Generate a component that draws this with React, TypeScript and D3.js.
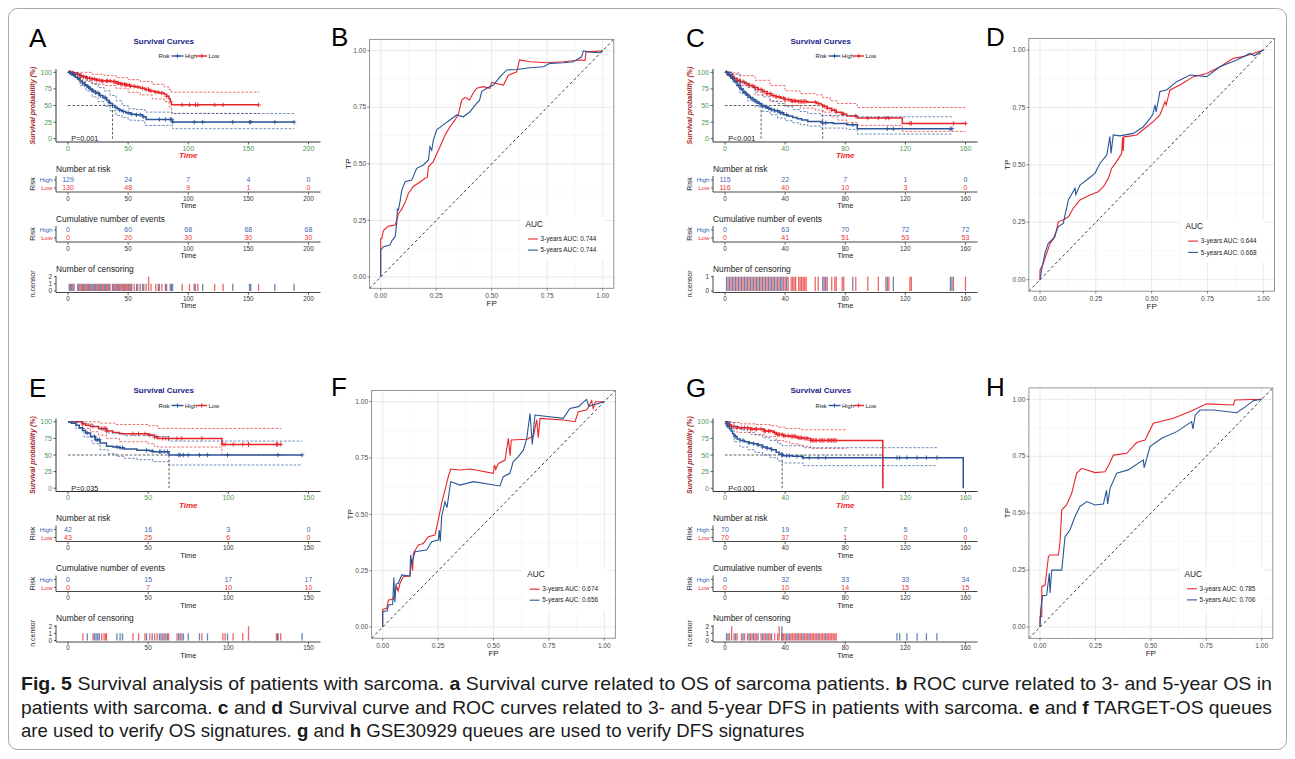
import React from 'react';
import * as d3 from 'd3';

type Pt = [number, number];

const BLUE = '#2b5597';
const RED = '#e8262a';
const TBLUE = '#3b68b3';
const TRED = '#f03434';
const GREEN = '#4f9a4f';
const FONT = '"Liberation Sans", Arial, Helvetica, sans-serif';

// ---------------- Panel A (OS, TCGA) ----------------
const A_ticks = [0, 50, 100, 150, 200];
const A_high: Pt[] = [[0,100],[2,98],[4,96],[6,93],[8,90],[10,87],[12,84],[14,81],[16,78],[18,75],[20,72],[23,69],[26,65],[29,62],[32,58],[34,55],[35,53],[37,50],[39,47],[41,45],[43,43],[45,41],[48,39],[52,37],[56,36],[62,33],[65,29],[87,25]];
const A_low: Pt[] = [[0,100],[4,99],[7,97],[10,95],[13,93],[16,91],[20,90],[24,88],[28,87],[36,86],[40,84],[44,82],[48,81],[52,79],[56,78],[60,76],[64,74],[68,72],[72,70],[76,69],[80,67],[82,64],[84,60],[85,56],[86,51]];
const A_highLo: Pt[] = [[0,100],[5,92],[10,80],[15,72],[20,63],[25,56],[30,49],[35,42],[40,35],[45,32],[50,28],[56,27],[64,20],[87,15],[188,15]];
const A_highUp: Pt[] = [[0,100],[5,99],[10,94],[15,88],[20,83],[25,77],[30,72],[35,65],[40,57],[45,50],[50,45],[56,44],[64,40],[87,38],[188,38]];
const A_lowLo: Pt[] = [[0,100],[6,92],[12,86],[20,82],[30,80],[40,76],[50,70],[60,66],[70,60],[80,56],[84,48],[86,38],[159,38]];
const A_lowUp: Pt[] = [[0,100],[10,100],[20,97],[30,95],[40,92],[50,89],[60,86],[70,82],[80,78],[84,74],[86,70],[159,70]];
const A_highCens = [1,3,5,9,12,14,17,19,21,23,25,27,30,31,34,37,40,43,46,50,53,57,60,63,76,81,85,86,87,105,112,137,151,152,172,188];
const A_lowCens = [2,4,8,10,11,13,15,16,18,20,22,24,26,28,29,32,33,35,38,39,41,42,44,45,47,48,49,51,52,55,58,62,65,67,67,69,73,75,78,82,95,101,106,108,122,129,158.5];
const A_nHigh = [129, 24, 7, 4, 0];
const A_nLow = [130, 48, 9, 1, 0];
const A_eHigh = [0, 60, 68, 68, 68];
const A_eLow = [0, 20, 30, 30, 30];

// ---------------- Panel C (DFS, TCGA) ----------------
const C_ticks = [0, 40, 80, 120, 160];
const C_high: Pt[] = [[0,100],[2,96],[4,91],[6,86],[8,80],[10,75],[12,70],[14,66],[16,62],[18,59],[20,56],[22,53],[24,50],[26,48],[28,46],[30,44],[33,42],[36,39],[39,36],[42,34],[45,32],[48,30],[51,28],[55,26],[64,24],[72,23],[81,21],[88,15]];
const C_low: Pt[] = [[0,100],[2,97],[4,94],[6,91],[8,88],[10,86],[13,83],[16,80],[19,77],[22,74],[25,71],[28,68],[31,65],[34,63],[37,61],[40,59],[44,57],[48,56],[55,55],[61,53],[64,51],[65,49],[68,46],[71,43],[74,40],[78,37],[81,34],[88,31],[118,23]];
const C_highLo: Pt[] = [[0,100],[5,86],[10,68],[15,57],[20,48],[25,41],[30,36],[35,31],[40,27],[45,24],[50,21],[55,19],[64,16],[81,14],[88,7],[151,7]];
const C_highUp: Pt[] = [[0,100],[5,97],[10,85],[15,77],[20,70],[25,63],[30,57],[35,53],[40,48],[45,44],[50,41],[55,38],[64,35],[88,33],[151,33]];
const C_lowLo: Pt[] = [[0,100],[5,90],[10,80],[20,66],[30,56],[40,50],[50,46],[60,43],[65,40],[70,33],[75,28],[81,24],[88,20],[118,11],[160,11]];
const C_lowUp: Pt[] = [[0,100],[5,99],[10,95],[20,88],[30,80],[40,72],[50,68],[60,66],[65,62],[70,57],[75,53],[88,47],[160,47]];
const C_highCens = [1,3,5,7,9,11,13,15,17,19,21,23,25,27,29,31,33,35,37,38,41,65,67,85,108,112,150,151];
const C_lowCens = [2,4,6,8,10,12,14,16,18,20,22,24,26,28,30,32,34,36,39,40,42,44,45,46,47,49,50,51,52,53,54,60,62,66,68,71,73,74,78,79,87,95,102,107,109,123,124,152,160];
const C_nHigh = [115, 22, 7, 1, 0];
const C_nLow = [116, 40, 10, 3, 0];
const C_eHigh = [0, 63, 70, 72, 72];
const C_eLow = [0, 41, 51, 53, 53];

// ---------------- Panel E (TARGET-OS) ----------------
const E_ticks = [0, 50, 100, 150];
const E_high: Pt[] = [[0,100],[2,98],[5,95],[7,91],[9,87],[11,83],[14,78],[17,73],[20,68],[24,63],[28,62],[32,61],[35,59],[43,57],[51,56],[53,55],[63,50]];
const E_low: Pt[] = [[0,100],[9,97],[11,95],[14,93],[19,90],[24,86],[28,84],[32,82],[50,80],[54,77],[56,75],[96,66]];
const E_highLo: Pt[] = [[0,100],[5,90],[10,77],[15,67],[20,58],[25,52],[30,48],[35,45],[43,43],[53,40],[63,35],[146,35]];
const E_highUp: Pt[] = [[0,100],[5,100],[10,97],[15,93],[20,88],[25,83],[35,79],[53,78],[63,71],[146,71]];
const E_lowLo: Pt[] = [[0,100],[9,90],[14,85],[19,80],[24,75],[32,70],[50,67],[54,63],[56,62],[96,50],[133,50]];
const E_lowUp: Pt[] = [[0,100],[10,100],[20,98],[30,96],[50,94],[56,90],[133,90]];
const E_highCens = [12,16.5,17.5,18.5,19.5,30.5,32.5,34,49,52.5,57,58,60,62,69,70,72,75,82,87,99.5,131,146];
const E_lowCens = [9.3,15.6,21,22.5,23.5,24,40.5,44,48,51,54,55.5,59,61,62.7,68,71,83.5,96.6,98,103,109,112.6,112.6,130,130.7,132.7];
const E_nHigh = [42, 16, 3, 0];
const E_nLow = [43, 25, 6, 0];
const E_eHigh = [0, 15, 17, 17];
const E_eLow = [0, 7, 10, 10];

// ---------------- Panel G (GSE30929) ----------------
const G_ticks = [0, 40, 80, 120, 160];
const G_high: Pt[] = [[0,100],[1,97],[2,93],[3,89],[4,86],[5,82],[6,78],[8,74],[10,72],[13,70],[16,68],[19,67],[22,65],[25,62],[28,60],[31,58],[34,54],[36,51],[38,49],[45,48],[52,46],[158.5,0]];
const G_low: Pt[] = [[0,100],[2,96],[4,93],[8,91],[17,89],[26,86],[32,84],[34,81],[39,79],[43,78],[48,76],[52,75],[57,72],[105,0]];
const G_highLo: Pt[] = [[0,100],[3,90],[6,70],[10,62],[15,58],[20,54],[25,50],[30,46],[35,41],[38,38],[52,34],[141,34]];
const G_highUp: Pt[] = [[0,100],[3,99],[6,93],[10,88],[15,84],[20,80],[25,76],[30,72],[35,67],[38,64],[52,61],[141,61]];
const G_lowLo: Pt[] = [[0,100],[3,90],[8,84],[17,81],[26,78],[34,72],[39,70],[43,67],[48,65],[52,63],[57,60],[81,60]];
const G_lowUp: Pt[] = [[0,100],[5,99],[10,97],[20,96],[30,94],[35,92],[40,90],[50,88],[81,88]];
const G_highCens = [1,2,7,12,16,19,22,25,28,31,37.8,37.8,41,43,48,52,56,62,67,114.4,116.2,121,127.8,134,141];
const G_lowCens = [3,4.4,4.4,6,8,11,13,15,17,18,20,21,24,26,27,29,30,33,35,36,36,38,39,40,42,44,45,46,47,49,50,51,53,54,55,57,58,59,60,61,63,64,65,66,68,69,70,71,72,73,74];
const G_nHigh = [70, 19, 7, 5, 0];
const G_nLow = [70, 37, 1, 0, 0];
const G_eHigh = [0, 32, 33, 33, 34];
const G_eLow = [0, 10, 14, 15, 15];

// ---------------- ROC curves ----------------
const B_red: Pt[] = [[0,0],[0,0.17],[0.005,0.17],[0.012,0.205],[0.035,0.225],[0.065,0.23],[0.072,0.25],[0.08,0.28],[0.095,0.3],[0.11,0.33],[0.125,0.37],[0.147,0.4],[0.177,0.42],[0.2,0.436],[0.21,0.44],[0.215,0.487],[0.237,0.51],[0.255,0.55],[0.267,0.576],[0.29,0.627],[0.312,0.664],[0.335,0.694],[0.35,0.72],[0.365,0.782],[0.38,0.794],[0.4,0.782],[0.415,0.81],[0.432,0.834],[0.462,0.841],[0.492,0.834],[0.5,0.86],[0.515,0.856],[0.553,0.848],[0.575,0.892],[0.613,0.907],[0.625,0.959],[0.673,0.951],[0.748,0.947],[0.823,0.951],[0.898,0.959],[0.92,0.956],[0.925,0.996],[0.958,0.996],[1,1]];
const B_blue: Pt[] = [[0,0],[0,0.119],[0.012,0.134],[0.042,0.141],[0.05,0.16],[0.065,0.178],[0.072,0.237],[0.075,0.3],[0.08,0.296],[0.088,0.34],[0.095,0.384],[0.11,0.421],[0.14,0.428],[0.162,0.48],[0.192,0.495],[0.215,0.517],[0.222,0.576],[0.23,0.56],[0.237,0.605],[0.252,0.65],[0.282,0.672],[0.312,0.694],[0.342,0.716],[0.372,0.708],[0.402,0.73],[0.432,0.767],[0.445,0.78],[0.455,0.819],[0.477,0.834],[0.508,0.848],[0.538,0.885],[0.568,0.915],[0.613,0.917],[0.673,0.925],[0.733,0.929],[0.763,0.944],[0.823,0.947],[0.868,0.951],[0.905,0.973],[0.913,0.999],[0.935,0.994],[0.988,0.991],[1,1]];
const D_red: Pt[] = [[0,0],[0,0.042],[0.015,0.071],[0.03,0.115],[0.045,0.158],[0.067,0.187],[0.075,0.22],[0.082,0.253],[0.104,0.26],[0.127,0.274],[0.149,0.311],[0.165,0.33],[0.179,0.347],[0.224,0.369],[0.261,0.383],[0.284,0.405],[0.306,0.441],[0.321,0.485],[0.343,0.514],[0.366,0.55],[0.37,0.62],[0.373,0.56],[0.376,0.623],[0.388,0.623],[0.433,0.63],[0.478,0.666],[0.507,0.688],[0.537,0.717],[0.56,0.775],[0.565,0.76],[0.582,0.826],[0.627,0.848],[0.687,0.884],[0.746,0.898],[0.806,0.927],[0.866,0.964],[0.91,0.971],[0.955,0.985],[1,1]];
const D_blue: Pt[] = [[0,0],[0.007,0.042],[0.022,0.115],[0.037,0.158],[0.06,0.18],[0.082,0.231],[0.104,0.245],[0.127,0.347],[0.157,0.398],[0.16,0.37],[0.179,0.412],[0.209,0.434],[0.246,0.463],[0.269,0.507],[0.299,0.543],[0.313,0.623],[0.318,0.55],[0.328,0.63],[0.358,0.626],[0.418,0.637],[0.463,0.666],[0.493,0.702],[0.505,0.72],[0.515,0.761],[0.52,0.73],[0.537,0.819],[0.567,0.826],[0.612,0.862],[0.672,0.891],[0.746,0.884],[0.806,0.927],[0.881,0.956],[0.94,0.985],[0.96,0.975],[1,1]];
const F_red: Pt[] = [[0,0],[0,0.078],[0.018,0.083],[0.026,0.12],[0.048,0.123],[0.063,0.179],[0.07,0.16],[0.078,0.194],[0.093,0.223],[0.123,0.226],[0.13,0.3],[0.135,0.25],[0.138,0.327],[0.161,0.364],[0.183,0.371],[0.206,0.401],[0.236,0.408],[0.251,0.475],[0.266,0.549],[0.281,0.608],[0.296,0.667],[0.307,0.701],[0.349,0.697],[0.394,0.701],[0.499,0.682],[0.505,0.72],[0.51,0.7],[0.522,0.726],[0.552,0.741],[0.567,0.837],[0.575,0.76],[0.58,0.83],[0.65,0.833],[0.68,0.845],[0.695,0.92],[0.702,0.84],[0.71,0.926],[0.815,0.919],[0.868,0.911],[0.883,0.956],[0.92,0.963],[0.93,0.98],[0.943,1.004],[0.95,0.97],[0.96,1],[1,1]];
const F_blue: Pt[] = [[0,0],[0,0.068],[0.021,0.072],[0.026,0.098],[0.045,0.1],[0.05,0.22],[0.055,0.11],[0.06,0.19],[0.07,0.194],[0.086,0.231],[0.123,0.226],[0.126,0.32],[0.131,0.28],[0.146,0.334],[0.198,0.342],[0.221,0.379],[0.251,0.386],[0.255,0.43],[0.26,0.38],[0.266,0.49],[0.281,0.556],[0.29,0.53],[0.307,0.645],[0.349,0.63],[0.409,0.645],[0.529,0.626],[0.544,0.667],[0.574,0.682],[0.589,0.734],[0.612,0.756],[0.635,0.785],[0.65,0.837],[0.665,0.948],[0.675,0.81],[0.687,0.941],[0.815,0.926],[0.845,0.97],[0.883,0.978],[0.92,1.01],[0.93,0.98],[1,1]];
const H_red: Pt[] = [[0,0],[0,0.045],[0.008,0.045],[0.008,0.177],[0.023,0.184],[0.038,0.309],[0.045,0.316],[0.083,0.316],[0.09,0.37],[0.098,0.514],[0.12,0.536],[0.143,0.587],[0.165,0.675],[0.188,0.697],[0.248,0.678],[0.293,0.682],[0.31,0.71],[0.331,0.755],[0.391,0.763],[0.436,0.81],[0.474,0.821],[0.511,0.895],[0.602,0.917],[0.677,0.946],[0.752,0.98],[0.872,0.975],[0.88,0.997],[1,1]];
const H_blue: Pt[] = [[0,0],[0.003,0.075],[0.012,0.138],[0.03,0.139],[0.042,0.236],[0.045,0.15],[0.053,0.25],[0.098,0.25],[0.113,0.397],[0.135,0.426],[0.158,0.485],[0.18,0.529],[0.211,0.551],[0.248,0.536],[0.286,0.54],[0.3,0.6],[0.305,0.54],[0.316,0.609],[0.346,0.675],[0.398,0.69],[0.466,0.734],[0.47,0.7],[0.496,0.792],[0.549,0.829],[0.617,0.858],[0.684,0.902],[0.69,0.87],[0.7,0.93],[0.722,0.953],[0.782,0.953],[0.887,0.941],[0.932,0.971],[0.962,0.994],[1,1]];
const ROC_ticks = [0, 0.25, 0.5, 0.75, 1];
const AUC3 = ['0.744', '0.644', '0.674', '0.785'];
const AUC5 = ['0.744', '0.668', '0.656', '0.706'];

const CAPTION: [string, boolean][][] = [
  [['Fig. 5', true], [' Survival analysis of patients with sarcoma. ', false], ['a', true], [' Survival curve related to OS of sarcoma patients. ', false], ['b', true], [' ROC curve related to 3- and 5-year OS in', false]],
  [['patients with sarcoma. ', false], ['c', true], [' and ', false], ['d', true], [' Survival curve and ROC curves related to 3- and 5-year DFS in patients with sarcoma. ', false], ['e', true], [' and ', false], ['f', true], [' TARGET-OS queues', false]],
  [['are used to verify OS signatures. ', false], ['g', true], [' and ', false], ['h', true], [' GSE30929 queues are used to verify DFS signatures', false]],
];
const CAPTION_WIDTHS = [1251, 1251, 0];

const fmt2 = d3.format('.2f');

function stepAt(k: Pt[], t: number) {
  let v = k[0][1];
  for (const [tt, s] of k) if (tt <= t) v = s;
  return v;
}

function SurvPanel(p: any) {
  const { dx, dy, letter, xmax, ticks, high, low, highLo, highUp, lowLo, lowUp, highCens, lowCens, pText, nHigh, nLow, eHigh, eLow, censMax } = p;
  const L = 56 + dx, R = 320.5 + dx;
  const x = d3.scaleLinear().domain([-0.05 * xmax, 1.05 * xmax]).range([L, R]);
  const yT = 69 + dy, yB = 142 + dy;
  const y = d3.scaleLinear().domain([-5, 105]).range([yB, yT]);
  const line = d3.line<Pt>().x(d => x(d[0])).y(d => y(d[1])).curve(d3.curveStepAfter);
  const lastT = (k: Pt[], c: number[]) => Math.max(k[k.length - 1][0], c[c.length - 1]);
  const km = (k: Pt[], c: number[]) => line([...k, [lastT(k, c), k[k.length - 1][1]]] as Pt[]) as string;
  const medians = [high, low].map((k: Pt[]) => k.find(d => d[1] <= 50)).filter(Boolean).map((d: any) => d[0]);
  const yTicks = [0, 25, 50, 75, 100];
  const plus = (cx: number, cy: number, col: string, key: string) => (
    <path key={key} d={`M${cx - 2.2},${cy}H${cx + 2.2}M${cx},${cy - 2.2}V${cy + 2.2}`} stroke={col} strokeWidth={0.9} />
  );
  const curve = (k: Pt[], c: number[], col: string, lo: Pt[], up: Pt[], tag: string) => (
    <g key={tag}>
      <path d={line(lo) as string} fill="none" stroke={col} strokeWidth={0.8} strokeDasharray="2.6,1.6" opacity={0.85} />
      <path d={line(up) as string} fill="none" stroke={col} strokeWidth={0.8} strokeDasharray="2.6,1.6" opacity={0.85} />
      <path d={km(k, c)} fill="none" stroke={col} strokeWidth={1.5} />
      {c.filter(t => t <= lastT(k, c)).map((t, i) => plus(x(t), y(stepAt(k, t)), col, tag + i))}
    </g>
  );
  const tickLabels = (yb: number, color: string, size: number, bold = false) =>
    ticks.map((t: number) => (
      <g key={'t' + t + yb}>
        <line x1={x(t)} x2={x(t)} y1={yb - 8.2} y2={yb - 5.8} stroke="#333" strokeWidth={0.8} />
        <text x={x(t)} y={yb} textAnchor="middle" fontSize={size} fill={color} fontWeight={bold ? 'bold' : 'normal'}>{t}</text>
      </g>
    ));
  const table = (top: number, title: string, hv: number[], lv: number[]) => {
    const rH = top + 8.5, rL = top + 16.5, ax = top + 20.5;
    return (
      <g>
        <text x={L} y={top} fontSize={8.4} fill="#222">{title}</text>
        <line x1={L} x2={L} y1={rH - 4} y2={ax} stroke="#333" strokeWidth={0.9} />
        <line x1={L} x2={R} y1={ax} y2={ax} stroke="#333" strokeWidth={0.9} />
        <line x1={L - 2} x2={L} y1={rH} y2={rH} stroke="#333" strokeWidth={0.8} />
        <line x1={L - 2} x2={L} y1={rL} y2={rL} stroke="#333" strokeWidth={0.8} />
        <text x={L - 3.5} y={rH + 2.2} textAnchor="end" fontSize={6.2} fill={TBLUE}>High</text>
        <text x={L - 3.5} y={rL + 2.2} textAnchor="end" fontSize={6.2} fill={TRED}>Low</text>
        <text transform={`translate(${35 + dx},${(rH + rL) / 2}) rotate(-90)`} textAnchor="middle" fontSize={7} fill="#222">Risk</text>
        {ticks.map((t: number, i: number) => (
          <g key={'v' + i}>
            <text x={x(t)} y={rH + 2.4} textAnchor="middle" fontSize={7} fill={TBLUE}>{hv[i]}</text>
            <text x={x(t)} y={rL + 2.4} textAnchor="middle" fontSize={7} fill={TRED}>{lv[i]}</text>
          </g>
        ))}
        {tickLabels(ax + 8.5, '#333', 6.4)}
        <text x={(L + R) / 2} y={ax + 16} textAnchor="middle" fontSize={7.4} fill="#222">Time</text>
      </g>
    );
  };
  const cTop = 276.7 + dy, cBot = 291 + dy, cAx = 292.5 + dy;
  const yc = d3.scaleLinear().domain([0, censMax]).range([cBot, cTop]);
  const hCount = d3.rollups(highCens, (v: number[]) => v.length, (d: number) => d);
  const lCount = d3.rollups(lowCens, (v: number[]) => v.length, (d: number) => d);
  return (
    <g fontFamily={FONT}>
      <text x={29 + dx} y={47 + dy} fontSize={26} fill="#000">{letter}</text>
      <text x={163.7 + dx} y={43.5 + dy} textAnchor="middle" fontSize={8} fontWeight="bold" fill="#1d1d8a">Survival Curves</text>
      <g fontSize={5.8} fill="#222">
        <text x={158.5 + dx} y={58 + dy}>Risk</text>
        <line x1={171.5 + dx} x2={183.5 + dx} y1={56 + dy} y2={56 + dy} stroke={BLUE} strokeWidth={1.4} />
        {plus(177.5 + dx, 56 + dy, BLUE, 'lgH')}
        <text x={185 + dx} y={58 + dy}>High</text>
        <line x1={196.5 + dx} x2={207 + dx} y1={56 + dy} y2={56 + dy} stroke={RED} strokeWidth={1.4} />
        {plus(201.7 + dx, 56 + dy, RED, 'lgL')}
        <text x={208.5 + dx} y={58 + dy}>Low</text>
      </g>
      {/* axes */}
      <line x1={L} x2={L} y1={yT} y2={yB} stroke="#333" strokeWidth={1} />
      <line x1={L} x2={R} y1={yB} y2={yB} stroke="#333" strokeWidth={1} />
      {yTicks.map(v => (
        <g key={'y' + v}>
          <line x1={L - 2.5} x2={L} y1={y(v)} y2={y(v)} stroke="#333" strokeWidth={0.8} />
          <text x={L - 4} y={y(v) + 2.5} textAnchor="end" fontSize={7} fill={GREEN}>{v}</text>
        </g>
      ))}
      {ticks.map((t: number) => (
        <g key={'x' + t}>
          <line x1={x(t)} x2={x(t)} y1={yB} y2={yB + 2.5} stroke="#333" strokeWidth={0.8} />
          <text x={x(t)} y={yB + 8.5} textAnchor="middle" fontSize={7} fill={GREEN}>{t}</text>
        </g>
      ))}
      <text x={(L + R) / 2} y={158 + dy} textAnchor="middle" fontSize={8} fontWeight="bold" fontStyle="italic" fill="#f02828">Time</text>
      <text transform={`translate(${35 + dx},${(yT + yB) / 2}) rotate(-90)`} textAnchor="middle" fontSize={7} fontWeight="bold" fontStyle="italic" fill="#a3262a">Survival probability (%)</text>
      {/* medians */}
      {medians.length > 0 && (
        <g stroke="#333" strokeWidth={0.8} strokeDasharray="2.6,1.8" fill="none">
          <line x1={x(0)} x2={x(d3.max(medians) as number)} y1={y(50)} y2={y(50)} />
          {medians.map((m: number, i: number) => <line key={i} x1={x(m)} x2={x(m)} y1={y(50)} y2={y(0)} />)}
        </g>
      )}
      {curve(low, lowCens, RED, lowLo, lowUp, 'low')}
      {curve(high, highCens, BLUE, highLo, highUp, 'high')}
      <text x={x(0) + 3.3} y={141 + dy} fontSize={7.2} fill="#222">{pText}</text>
      {table(171.5 + dy, 'Number at risk', nHigh, nLow)}
      {table(221.5 + dy, 'Cumulative number of events', eHigh, eLow)}
      {/* censoring */}
      <text x={L} y={271.5 + dy} fontSize={8.4} fill="#222">Number of censoring</text>
      {lCount.map(([t, n]: any, i: number) => (
        <line key={'cl' + i} x1={x(t)} x2={x(t)} y1={yc(0)} y2={yc(n)} stroke={RED} strokeWidth={1.3} opacity={0.7} />
      ))}
      {hCount.map(([t, n]: any, i: number) => (
        <line key={'ch' + i} x1={x(t)} x2={x(t)} y1={yc(0)} y2={yc(n)} stroke={BLUE} strokeWidth={1.3} opacity={0.7} />
      ))}
      <line x1={L} x2={L} y1={cTop - 1} y2={cAx} stroke="#333" strokeWidth={0.9} />
      <line x1={L} x2={R} y1={cAx} y2={cAx} stroke="#333" strokeWidth={0.9} />
      {d3.range(0, censMax + 1).map(v => (
        <g key={'cy' + v}>
          <line x1={L - 2} x2={L} y1={yc(v)} y2={yc(v)} stroke="#333" strokeWidth={0.8} />
          <text x={L - 4} y={yc(v) + 2.3} textAnchor="end" fontSize={6.4} fill="#333">{v}</text>
        </g>
      ))}
      <text transform={`translate(${35 + dx},${(cTop + cBot) / 2}) rotate(-90)`} textAnchor="middle" fontSize={7} fill="#222">n.censor</text>
      {tickLabels(cAx + 8.2, '#333', 6.4)}
      <text x={(L + R) / 2} y={cAx + 15.7} textAnchor="middle" fontSize={7.4} fill="#222">Time</text>
    </g>
  );
}

function RocPanel(p: any) {
  const { letter, lx, ly, x0, x1, y0, y1, red, blue, auc3, auc5 } = p;
  const x = d3.scaleLinear().domain([0, 1]).range([x0, x1]);
  const y = d3.scaleLinear().domain([0, 1]).range([y0, y1]);
  const bl = x(-0.05), br = x(1.05), bt = y(1.05), bb = y(-0.05);
  const line = d3.line<Pt>().x(d => x(d[0])).y(d => y(d[1]));
  const minor = [0.125, 0.375, 0.625, 0.875];
  return (
    <g fontFamily={FONT}>
      <text x={lx} y={ly} fontSize={26} fill="#000">{letter}</text>
      <rect x={bl} y={bt} width={br - bl} height={bb - bt} fill="#fff" />
      {minor.map(v => (
        <g key={'m' + v} stroke="#f3f3f3" strokeWidth={0.6}>
          <line x1={x(v)} x2={x(v)} y1={bt} y2={bb} />
          <line x1={bl} x2={br} y1={y(v)} y2={y(v)} />
        </g>
      ))}
      {ROC_ticks.map(v => (
        <g key={'g' + v} stroke="#e6e6e6" strokeWidth={0.9}>
          <line x1={x(v)} x2={x(v)} y1={bt} y2={bb} />
          <line x1={bl} x2={br} y1={y(v)} y2={y(v)} />
        </g>
      ))}
      <line x1={bl} y1={bb} x2={br} y2={bt} stroke="#222" strokeWidth={0.9} strokeDasharray="2.8,2.6" />
      <path d={line(red) as string} fill="none" stroke={RED} strokeWidth={1.1} />
      <path d={line(blue) as string} fill="none" stroke={BLUE} strokeWidth={1.1} />
      <rect x={bl} y={bt} width={br - bl} height={bb - bt} fill="none" stroke="#8a8a8a" strokeWidth={0.9} />
      {ROC_ticks.map(v => (
        <g key={'t' + v}>
          <line x1={x(v)} x2={x(v)} y1={bb} y2={bb + 2.3} stroke="#555" strokeWidth={0.7} />
          <text x={x(v)} y={bb + 9.5} textAnchor="middle" fontSize={6.6} fill="#4d4d4d">{fmt2(v)}</text>
          <line x1={bl - 2.3} x2={bl} y1={y(v)} y2={y(v)} stroke="#555" strokeWidth={0.7} />
          <text x={bl - 3.5} y={y(v) + 2.2} textAnchor="end" fontSize={6.6} fill="#4d4d4d">{fmt2(v)}</text>
        </g>
      ))}
      <text x={(bl + br) / 2} y={bb + 18} textAnchor="middle" fontSize={8} fill="#222">FP</text>
      <text transform={`translate(${bl - 19},${(bt + bb) / 2}) rotate(-90)`} textAnchor="middle" fontSize={8} fill="#222">TP</text>
      <rect x={x(0.627)} y={y(0.265)} width={x(1.01) - x(0.627)} height={y(0.075) - y(0.265)} fill="#fff" />
      <text x={x(0.652)} y={y(0.22)} fontSize={8.3} fill="#222">AUC</text>
      <line x1={x(0.663)} x2={x(0.708)} y1={y(0.168)} y2={y(0.168)} stroke={RED} strokeWidth={1.1} />
      <text x={x(0.72)} y={y(0.168) + 2.3} fontSize={6.4} fill="#222">{`3-years AUC: ${auc3}`}</text>
      <line x1={x(0.663)} x2={x(0.708)} y1={y(0.119)} y2={y(0.119)} stroke={BLUE} strokeWidth={1.1} />
      <text x={x(0.72)} y={y(0.119) + 2.3} fontSize={6.4} fill="#222">{`5-years AUC: ${auc5}`}</text>
    </g>
  );
}

export default function App() {
  const DY = 349.5, DX = 657;
  return (
    <svg width={1295} height={759} style={{ position: 'absolute', left: 0, top: 0, background: '#fff' }}>
      <rect x={0} y={0} width={1295} height={759} fill="#fff" />
      <rect x={8.5} y={8.5} width={1278} height={741} rx={9} fill="none" stroke="#a8a8a8" strokeWidth={1} />
      <SurvPanel dx={0} dy={0} letter="A" xmax={200} ticks={A_ticks} high={A_high} low={A_low}
        highLo={A_highLo} highUp={A_highUp} lowLo={A_lowLo} lowUp={A_lowUp} highCens={A_highCens} lowCens={A_lowCens}
        pText="P=0.001" nHigh={A_nHigh} nLow={A_nLow} eHigh={A_eHigh} eLow={A_eLow} censMax={2} />
      <SurvPanel dx={DX} dy={0} letter="C" xmax={160} ticks={C_ticks} high={C_high} low={C_low}
        highLo={C_highLo} highUp={C_highUp} lowLo={C_lowLo} lowUp={C_lowUp} highCens={C_highCens} lowCens={C_lowCens}
        pText="P<0.001" nHigh={C_nHigh} nLow={C_nLow} eHigh={C_eHigh} eLow={C_eLow} censMax={1} />
      <SurvPanel dx={0} dy={DY} letter="E" xmax={150} ticks={E_ticks} high={E_high} low={E_low}
        highLo={E_highLo} highUp={E_highUp} lowLo={E_lowLo} lowUp={E_lowUp} highCens={E_highCens} lowCens={E_lowCens}
        pText="P=0.035" nHigh={E_nHigh} nLow={E_nLow} eHigh={E_eHigh} eLow={E_eLow} censMax={2} />
      <SurvPanel dx={DX} dy={DY} letter="G" xmax={160} ticks={G_ticks} high={G_high} low={G_low}
        highLo={G_highLo} highUp={G_highUp} lowLo={G_lowLo} lowUp={G_lowUp} highCens={G_highCens} lowCens={G_lowCens}
        pText="P<0.001" nHigh={G_nHigh} nLow={G_nLow} eHigh={G_eHigh} eLow={G_eLow} censMax={2} />
      <RocPanel letter="B" lx={331} ly={46} x0={380.7} x1={602.7} y0={277} y1={50.7} red={B_red} blue={B_blue} auc3={AUC3[0]} auc5={AUC5[0]} />
      <RocPanel letter="D" lx={986} ly={46} x0={1040} x1={1263.3} y0={279.7} y1={50} red={D_red} blue={D_blue} auc3={AUC3[1]} auc5={AUC5[1]} />
      <RocPanel letter="F" lx={331} ly={396} x0={382.7} x1={604.3} y0={627} y1={401.7} red={F_red} blue={F_blue} auc3={AUC3[2]} auc5={AUC5[2]} />
      <RocPanel letter="H" lx={986} ly={396} x0={1040} x1={1261.7} y0={627} y1={399.3} red={H_red} blue={H_blue} auc3={AUC3[3]} auc5={AUC5[3]} />
      <g fontFamily={FONT} fontSize={18.6} fill="#1a1a1a">
        {CAPTION.map((ln, i) => (
          <text key={i} x={21} y={690 + i * 23.5}
            {...(CAPTION_WIDTHS[i] > 0 ? { textLength: CAPTION_WIDTHS[i], lengthAdjust: 'spacingAndGlyphs' } : {})}>
            {ln.map(([s, b], j) => (
              <tspan key={j} fontWeight={b ? 'bold' : 'normal'}>{s}</tspan>
            ))}
          </text>
        ))}
      </g>
    </svg>
  );
}
